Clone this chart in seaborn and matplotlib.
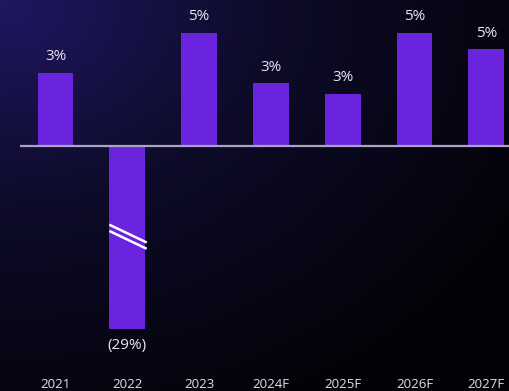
import numpy as np
import pandas as pd
import matplotlib
matplotlib.use("Agg")
import matplotlib.pyplot as plt
import seaborn as sns

# Data
years = ["2021", "2022", "2023", "2024F", "2025F", "2026F", "2027F"]
growth = [3.5, -29.0, 5.4, 3.0, 2.5, 5.4, 4.6]          # % growth
labels = ["3%", "(29%)", "5%", "3%", "3%", "5%", "5%"]
# Height drawn for each bar (2022 is shown truncated with a break mark)
drawn = [3.5, -8.7, 5.4, 3.0, 2.5, 5.4, 4.6]

sns.set_theme(style="white")
plt.rcParams['font.family'] = ['Open Sans', 'DejaVu Sans']

W, H = 510, 391
fig = plt.figure(figsize=(W / 100, H / 100), dpi=100)

# background gradient
bg = fig.add_axes([0, 0, 1, 1])
yy, xx = np.mgrid[0:H, 0:W]
d = np.sqrt((xx / W * 1.0) ** 2 + (yy / H * 1.0) ** 2) / np.sqrt(2)
t = np.clip(d / 0.85, 0, 1)
c0 = np.array([0x20, 0x17, 0x62]) / 255
c1 = np.array([0x0d, 0x0b, 0x28]) / 255
c2 = np.array([0x03, 0x02, 0x06]) / 255
img = np.where(t[..., None] < 0.45,
               c0 + (c1 - c0) * (t[..., None] / 0.45),
               c1 + (c2 - c1) * ((t[..., None] - 0.45) / 0.55))
bg.imshow(img, aspect='auto', extent=[0, 1, 0, 1])
bg.axis('off')

bottom_px = 374
ax_left = 19.6 / W
ax_bottom = 1 - bottom_px / H
ax = fig.add_axes([ax_left, ax_bottom, 1 - ax_left, 1 - ax_bottom])
ax.set_facecolor('none')

df = pd.DataFrame({"year": years, "drawn": drawn})
sns.barplot(data=df, x="year", y="drawn", color="#6a24de", saturation=1,
            width=0.5, ax=ax, edgecolor='none')

ax.set_xlim(-0.5, 6.33)
# pixel scale: 20.98 px per %
px = 20.98
base_px = 146
ax.set_ylim(-(bottom_px - base_px) / px, base_px / px)
ax.axhline(0, color="#aaa4c2", lw=1.6, zorder=3)

for i, (v, lab) in enumerate(zip(drawn, labels)):
    if v >= 0:
        ax.annotate(lab, (i, v), xytext=(0, 6), textcoords='offset points',
                    ha='center', va='bottom', color='#e8e6ef', fontsize=11)
    else:
        ax.annotate(lab, (i, v), xytext=(0, -7), textcoords='offset points',
                    ha='center', va='top', color='#e8e6ef', fontsize=11)

# break mark on 2022 bar
i_break = years.index("2022")
for off in (0.0, -0.3):
    ax.plot([i_break - 0.25, i_break + 0.27],
            [-3.75 + off, -4.6 + off], color='white', lw=1.8,
            solid_capstyle='butt', zorder=4)

ax.set_xlabel("")
ax.set_ylabel("")
ax.set_yticks([])
ax.set_xticks(range(len(years)))
ax.set_xticklabels(years, color='#e0dee8', fontsize=9.5)
ax.tick_params(axis='x', length=0, pad=3)
for s in ax.spines.values():
    s.set_visible(False)

fig.savefig("out.png", dpi=100)
